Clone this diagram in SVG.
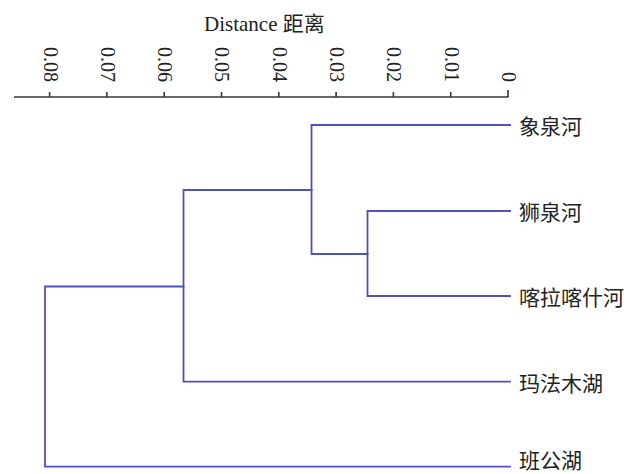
<svg xmlns="http://www.w3.org/2000/svg" width="638" height="474" viewBox="0 0 638 474">
  <style>
    .title { font-family: "Liberation Serif", "Noto Sans CJK SC", serif; font-size: 21px; fill: #222; }
    .tick { font-family: "Liberation Serif", serif; font-size: 20px; fill: #222; }
    .axis { stroke: #3a3530; stroke-width: 1.6; fill: none; }
    .edge { stroke: #5050bb; stroke-width: 1.8; fill: none; stroke-linecap: square; }
    .leaf { font-family: "Noto Sans CJK SC", "Liberation Serif", sans-serif; font-size: 21px; fill: #222; }
  </style>
  <rect width="638" height="474" fill="#ffffff"/>

  <g id="axis">
    <text class="title" x="204" y="31">Distance 距离</text>
    <line class="axis" x1="14" y1="97" x2="508.5" y2="97"/>
    <g class="axis">
      <line x1="49.6" y1="92" x2="49.6" y2="97"/>
      <line x1="106.9" y1="92" x2="106.9" y2="97"/>
      <line x1="164.2" y1="92" x2="164.2" y2="97"/>
      <line x1="221.5" y1="92" x2="221.5" y2="97"/>
      <line x1="278.8" y1="92" x2="278.8" y2="97"/>
      <line x1="336.1" y1="92" x2="336.1" y2="97"/>
      <line x1="393.4" y1="92" x2="393.4" y2="97"/>
      <line x1="450.7" y1="92" x2="450.7" y2="97"/>
      <line x1="508" y1="90" x2="508" y2="97"/>
    </g>
    <g class="tick" text-anchor="end">
      <text transform="translate(43.5,82) rotate(90)">0.08</text>
      <text transform="translate(100.8,82) rotate(90)">0.07</text>
      <text transform="translate(158.1,82) rotate(90)">0.06</text>
      <text transform="translate(215.4,82) rotate(90)">0.05</text>
      <text transform="translate(272.7,82) rotate(90)">0.04</text>
      <text transform="translate(330,82) rotate(90)">0.03</text>
      <text transform="translate(387.3,82) rotate(90)">0.02</text>
      <text transform="translate(444.6,82) rotate(90)">0.01</text>
      <text transform="translate(501.9,82) rotate(90)">0</text>
    </g>
  </g>

  <g id="connectors">
    <path class="edge" d="M510 125 H311.5 V190 M311.5 190 V254 H367.5"/>
    <path class="edge" d="M510 211 H367.5 V296 H510"/>
    <path class="edge" d="M311.5 190 H183.5 V381.7 H510"/>
    <path class="edge" d="M183.5 286.5 H45 V466.7 H510"/>
  </g>

  <g id="node-xiangquanhe"><text class="leaf" x="519" y="125" dominant-baseline="central">象泉河</text></g>
  <g id="node-shiquanhe"><text class="leaf" x="519" y="211" dominant-baseline="central">狮泉河</text></g>
  <g id="node-kalakashihe"><text class="leaf" x="519" y="296" dominant-baseline="central">喀拉喀什河</text></g>
  <g id="node-mafamuhu"><text class="leaf" x="519" y="381.7" dominant-baseline="central">玛法木湖</text></g>
  <g id="node-bangonghu"><text class="leaf" x="519" y="459" dominant-baseline="central">班公湖</text></g>
</svg>
